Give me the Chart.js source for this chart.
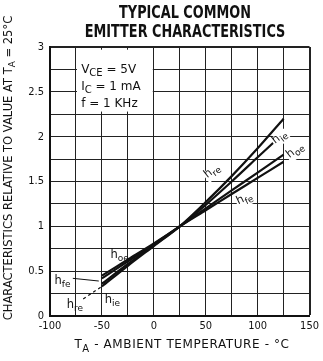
<!DOCTYPE html>
<html>
<head>
<meta charset="utf-8">
<script src="https://cdn.jsdelivr.net/npm/chart.js@4.4.1/dist/chart.umd.min.js"></script>
<style>
body { margin: 0; background: #fff; }
#wrap { width: 323px; height: 361px; position: relative; }
</style>
</head>
<body>
<div id="wrap"><canvas id="myChart"></canvas></div>
<script>
// temperature points (deg C) and relative values
var temps = [-50, -25, 0, 25, 50, 75, 100, 125];
var hre = [0.33, 0.56, 0.78, 1.0, 1.27, 1.56, 1.87, 2.2];
var hie = [0.36, 0.58, 0.79, 1.0, 1.24, 1.5, 1.77, 2.04];
var hoe = [0.45, 0.63, 0.81, 1.0, 1.2, 1.4, 1.6, 1.8];
var hfe = [0.42, 0.61, 0.8, 1.0, 1.18, 1.36, 1.54, 1.72];
// dashed low end of hre
var hreTailT = [-68, -50];
var hreTailV = [0.19, 0.33];

var xTicks = [-100, -50, 0, 50, 100, 150];
var yTicks = [0, 0.5, 1, 1.5, 2, 2.5, 3];

var FONT = '"DejaVu Sans Condensed", "DejaVu Sans", sans-serif';
var FONT_W = '"DejaVu Sans", sans-serif';

function pts(xs, ys) {
    var out = [];
    for (var i = 0; i < xs.length; i++) out.push({x: xs[i], y: ys[i]});
    return out;
}

// draws text made of [string, isSubscript] parts
function drawParts(ctx, parts, x, y, size, fam) {
    fam = fam || FONT;
    var cx = x;
    for (var i = 0; i < parts.length; i++) {
        var sub = parts[i][1];
        ctx.font = (sub ? Math.round(size * 0.8) : size) + 'px ' + fam;
        ctx.fillText(parts[i][0], cx, sub ? y + size * 0.35 : y);
        cx += ctx.measureText(parts[i][0]).width;
    }
    return cx - x;
}
function partsWidth(ctx, parts, size, fam) {
    fam = fam || FONT;
    var w = 0;
    for (var i = 0; i < parts.length; i++) {
        ctx.font = (parts[i][1] ? Math.round(size * 0.8) : size) + 'px ' + fam;
        w += ctx.measureText(parts[i][0]).width;
    }
    return w;
}

// curve labels: [T, value, subscript, angle]
var curveLabels = [
    [57, 1.6, 're', -38],
    [122, 1.98, 'ie', -38],
    [137, 1.83, 'oe', -38],
    [88, 1.29, 'fe', -25],
    [-33, 0.66, 'oe', 0],
    [-88, 0.37, 'fe', 0],
    [-40, 0.16, 'ie', 0],
    [-76, 0.1, 're', 0]
];

var drawExtras = {
    id: 'drawExtras',
    afterDraw: function(chart) {
        var ctx = chart.ctx;
        var xs = chart.scales.x, ys = chart.scales.y;
        ctx.save();
        ctx.fillStyle = '#111';
        ctx.textBaseline = 'middle';

        // title (narrow, tall lettering)
        ctx.save();
        ctx.textAlign = 'center';
        ctx.font = 'bold 17px ' + FONT;
        ctx.translate(185, 0);
        ctx.scale(0.84, 1);
        ctx.fillText('TYPICAL COMMON', 0, 14);
        ctx.fillText('EMITTER CHARACTERISTICS', 0, 33);
        ctx.restore();

        // conditions box
        ctx.fillStyle = '#fff';
        var bl = xs.getPixelForValue(-74), bt = ys.getPixelForValue(2.97);
        ctx.fillRect(bl, bt, xs.getPixelForValue(-1) - bl, ys.getPixelForValue(2.28) - bt);
        ctx.fillStyle = '#111';
        ctx.textAlign = 'left';
        var bx = xs.getPixelForValue(-70);
        drawParts(ctx, [['V', false], ['CE', true], [' = 5V', false]], bx, ys.getPixelForValue(2.75), 12, FONT_W);
        drawParts(ctx, [['I', false], ['C', true], [' = 1 mA', false]], bx, ys.getPixelForValue(2.56), 12, FONT_W);
        drawParts(ctx, [['f = 1 KHz', false]], bx, ys.getPixelForValue(2.37), 12, FONT_W);

        // curve labels
        curveLabels.forEach(function(l) {
            var px = xs.getPixelForValue(l[0]), py = ys.getPixelForValue(l[1]);
            var parts = [['h', false], [l[2], true]];
            var w = partsWidth(ctx, parts, 11.5, FONT_W);
            ctx.save();
            ctx.translate(px, py);
            ctx.rotate(l[3] * Math.PI / 180);
            if (l[3] != 0) {
                ctx.fillStyle = '#fff';
                ctx.fillRect(-w / 2 - 1, -6, w + 2, 12);
                ctx.fillStyle = '#111';
            }
            drawParts(ctx, parts, -w / 2, -2, 11.5, FONT_W);
            ctx.restore();
        });

        // arrow from lower hfe label
        ctx.strokeStyle = '#111';
        ctx.lineWidth = 1;
        ctx.beginPath();
        ctx.moveTo(xs.getPixelForValue(-78), ys.getPixelForValue(0.42));
        ctx.lineTo(xs.getPixelForValue(-53), ys.getPixelForValue(0.39));
        ctx.stroke();

        // axis titles
        ctx.textAlign = 'left';
        ctx.letterSpacing = '0.6px';
        var xt = [['T', false], ['A', true], [' - AMBIENT TEMPERATURE - \u00b0C', false]];
        var wx = partsWidth(ctx, xt, 12, FONT_W);
        drawParts(ctx, xt, 182 - wx / 2, 345, 12, FONT_W);

        ctx.letterSpacing = '0px';
        var yt = [['CHARACTERISTICS RELATIVE TO VALUE AT T', false], ['A', true], [' = 25\u00b0C', false]];
        var wy = partsWidth(ctx, yt, 11.5, FONT_W);
        ctx.save();
        ctx.translate(9, 168);
        ctx.rotate(-Math.PI / 2);
        drawParts(ctx, yt, -wy / 2, 0, 11.5, FONT_W);
        ctx.restore();

        ctx.restore();
    }
};

var lineStyle = {borderColor: '#111', borderWidth: 2.2, pointRadius: 0, tension: 0.3, fill: false};

var ctx = document.getElementById('myChart').getContext('2d');
var myChart = new Chart(ctx, {
    type: 'line',
    data: {
        datasets: [
            Object.assign({label: 'hre', data: pts(temps, hre)}, lineStyle),
            Object.assign({label: 'hie', data: pts(temps, hie)}, lineStyle),
            Object.assign({label: 'hoe', data: pts(temps, hoe)}, lineStyle),
            Object.assign({label: 'hfe', data: pts(temps, hfe)}, lineStyle),
            {label: 'hre tail', data: pts(hreTailT, hreTailV), borderColor: '#111', borderWidth: 1.2,
             borderDash: [3, 3], pointRadius: 0, fill: false}
        ]
    },
    options: {
        responsive: true,
        maintainAspectRatio: false,
        animation: false,
        devicePixelRatio: 1,
        layout: {autoPadding: false, padding: {left: 12, right: 5, top: 47, bottom: 25}},
        plugins: {legend: {display: false}, tooltip: {enabled: false}, title: {display: false}},
        scales: {
            x: {
                type: 'linear', min: -100, max: 150,
                afterFit: function(s) { s.height = 20; },
                afterBuildTicks: function(s) {
                    var t = [];
                    for (var v = -100; v <= 150; v += 25) t.push({value: v});
                    s.ticks = t;
                },
                ticks: {
                    color: '#111', padding: 4, maxRotation: 0, autoSkip: false,
                    font: {family: FONT, size: 11},
                    callback: function(v) { return xTicks.indexOf(v) >= 0 ? String(v) : ''; }
                },
                grid: {color: '#222', lineWidth: function(c) { return c.tick && c.tick.value == 150 ? 2 : 1; }, drawTicks: false},
                border: {color: '#111', width: 2}
            },
            y: {
                type: 'linear', min: 0, max: 3,
                afterFit: function(s) { s.width = 38; },
                afterBuildTicks: function(s) {
                    var t = [];
                    for (var v = 0; v <= 3.001; v += 0.25) t.push({value: Math.round(v * 100) / 100});
                    s.ticks = t;
                },
                ticks: {
                    color: '#111', padding: 6, autoSkip: false,
                    font: {family: FONT, size: 11},
                    callback: function(v) { return yTicks.indexOf(v) >= 0 ? String(v) : ''; }
                },
                grid: {color: '#222', lineWidth: function(c) { return c.tick && c.tick.value == 3 ? 2 : 1; }, drawTicks: false},
                border: {color: '#111', width: 2}
            }
        }
    },
    plugins: [drawExtras]
});
</script>
</body>
</html>
